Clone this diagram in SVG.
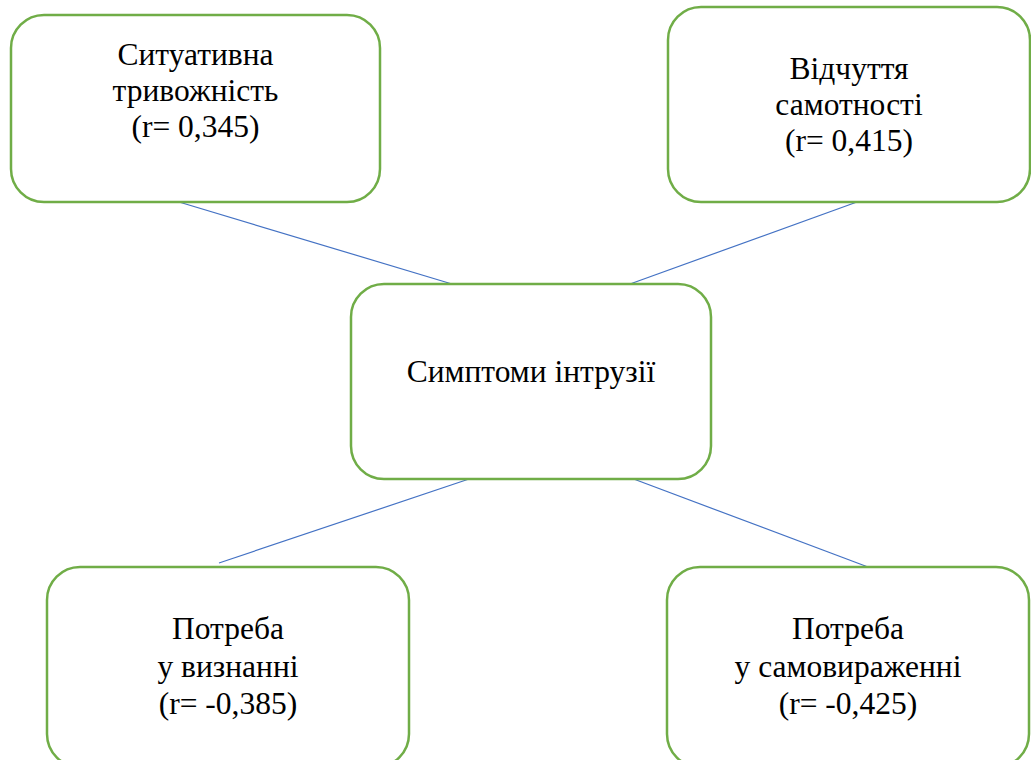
<svg xmlns="http://www.w3.org/2000/svg" width="1031" height="760" viewBox="0 0 1031 760">
  <style>
    .box { fill: #ffffff; stroke: #70AD47; stroke-width: 2.5; }
    .lbl { font-family: 'Liberation Serif', 'Times New Roman', serif; font-size: 31.5px; fill: #000000; text-anchor: middle; }
    .link { stroke: #4472C4; stroke-width: 1.2; fill: none; }
  </style>
  <rect width="1031" height="760" fill="#ffffff"/>

  <!-- straight links from the central node to the four factors -->
  <g id="connectors">
    <line class="link" x1="179" y1="202" x2="452" y2="284"/>
    <line class="link" x1="868" y1="198" x2="630" y2="284"/>
    <line class="link" x1="472" y1="478" x2="219" y2="563"/>
    <line class="link" x1="631" y1="478" x2="868" y2="567"/>
  </g>

  <g id="node-anxiety">
    <rect class="box" x="11" y="15" width="369" height="187" rx="33" ry="33"/>
    <text class="lbl" x="195.5" y="65">Ситуативна</text>
    <text class="lbl" x="195.5" y="101">тривожність</text>
    <text class="lbl" x="195.5" y="137">(r= 0,345)</text>
  </g>

  <g id="node-loneliness">
    <rect class="box" x="668" y="7" width="362" height="195" rx="33" ry="33"/>
    <text class="lbl" x="849" y="79">Відчуття</text>
    <text class="lbl" x="849" y="115">самотності</text>
    <text class="lbl" x="849" y="151">(r= 0,415)</text>
  </g>

  <g id="node-intrusion">
    <rect class="box" x="351" y="284" width="360" height="195" rx="33" ry="33"/>
    <text class="lbl" x="531" y="382">Симптоми інтрузії</text>
  </g>

  <g id="node-recognition">
    <rect class="box" x="47" y="567" width="362" height="200" rx="33" ry="33"/>
    <text class="lbl" x="228" y="639">Потреба</text>
    <text class="lbl" x="228" y="677">у визнанні</text>
    <text class="lbl" x="228" y="714">(r= -0,385)</text>
  </g>

  <g id="node-expression">
    <rect class="box" x="667" y="567" width="362" height="200" rx="33" ry="33"/>
    <text class="lbl" x="848" y="639">Потреба</text>
    <text class="lbl" x="848" y="677">у самовираженні</text>
    <text class="lbl" x="848" y="714">(r= -0,425)</text>
  </g>
</svg>
